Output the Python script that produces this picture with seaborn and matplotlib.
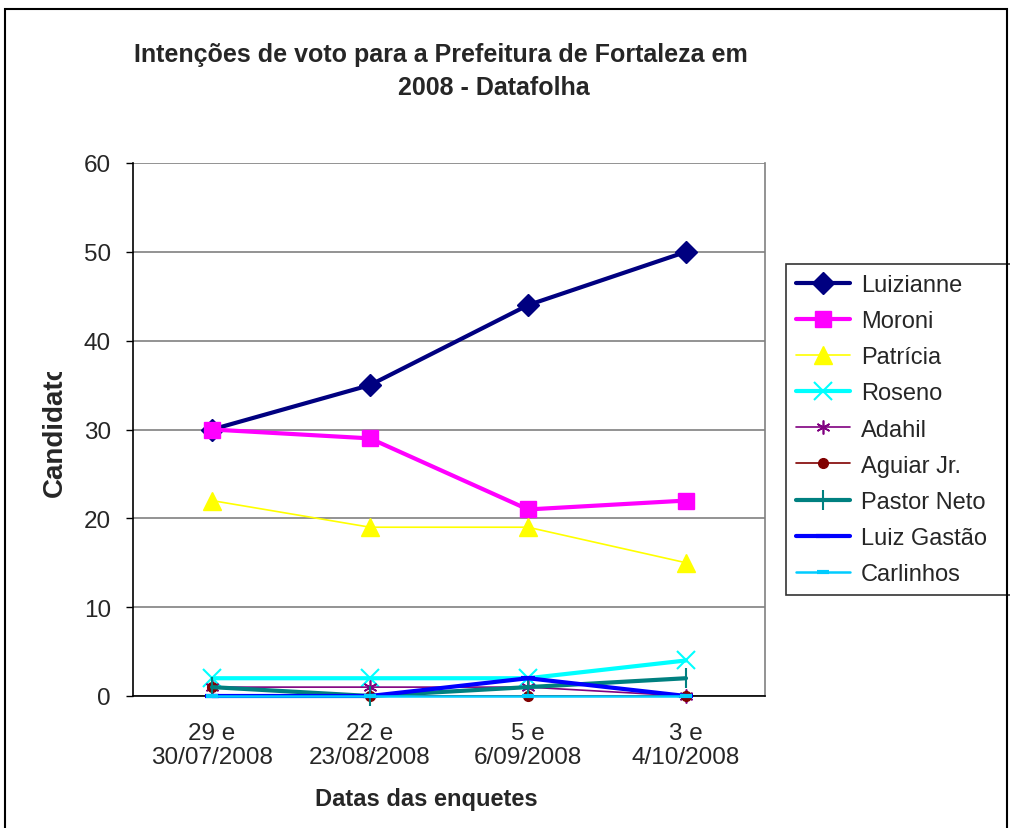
import matplotlib
matplotlib.use("Agg")
import matplotlib.pyplot as plt
import seaborn as sns
import numpy as np
from matplotlib.patches import Rectangle
from matplotlib.transforms import Bbox

sns.set_theme(style="white")
plt.rcParams['font.family'] = ['Liberation Sans', 'DejaVu Sans']

categories = ["29 e\n30/07/2008", "22 e\n23/08/2008", "5 e\n6/09/2008", "3 e\n4/10/2008"]
luizianne = [30, 35, 44, 50]
moroni = [30, 29, 21, 22]
patricia = [22, 19, 19, 15]
roseno = [2, 2, 2, 4]
adahil = [1, 1, 1, 0]
aguiar = [1, 0, 0, 0]
pastor_neto = [1, 0, 1, 2]
luiz_gastao = [0, 0, 2, 0]
carlinhos = [0, 0, 0, 0]

series = [
    ("Luizianne", luizianne, dict(color="#000080", lw=3, marker="D", ms=11, mec="#000080")),
    ("Moroni", moroni, dict(color="#FF00FF", lw=3, marker="s", ms=12, mec="#FF00FF")),
    ("Patrícia", patricia, dict(color="#FFFF00", lw=1.2, marker="^", ms=13, mec="#FFFF00")),
    ("Roseno", roseno, dict(color="#00FFFF", lw=3, marker="x", ms=13, mew=1.5, mec="#00FFFF")),
    ("Adahil", adahil, dict(color="#800080", lw=1.2, marker=(6, 2, 0), ms=10, mew=1.2, mec="#800080")),
    ("Aguiar Jr.", aguiar, dict(color="#800000", lw=1.2, marker="o", ms=7, mec="#800000")),
    ("Pastor Neto", pastor_neto, dict(color="#008080", lw=3, marker="|", ms=14, mew=1.5, mec="#008080")),
    ("Luiz Gastão", luiz_gastao, dict(color="#0000FF", lw=3, marker="_", ms=10, mew=3, mec="#0000FF")),
    ("Carlinhos", carlinhos, dict(color="#00CCFF", lw=1.8, marker="_", ms=9, mew=3, mec="#00CCFF")),
]

W, H = 1010, 829
fig = plt.figure(figsize=(W / 100, H / 100), dpi=100)
ax = fig.add_axes([133 / W, 1 - 697 / H, (765 - 133) / W, (697 - 164) / H])

x = np.arange(len(categories))
for name, vals, st in series:
    sns.lineplot(x=x, y=vals, ax=ax, label=name, color=st["color"], linewidth=st["lw"],
                 marker=st["marker"], markersize=st["ms"], markeredgecolor=st["mec"],
                 markeredgewidth=st.get("mew", 1.0), clip_on=False, zorder=3)

ax.set_xlim(-0.5, len(categories) - 0.5)
ax.set_ylim(0, 60)
ax.set_yticks(range(0, 61, 10))
ax.set_yticklabels([str(v) for v in range(0, 61, 10)], fontsize=17.5)
ax.set_xticks(x)
ax.set_xticklabels(categories, fontsize=17.5, linespacing=1.1)
ax.set_xticks(np.arange(-0.5, len(categories), 1.0), minor=True)
ax.tick_params(axis="x", which="major", length=0, pad=19)
ax.tick_params(axis="x", which="minor", length=4, width=1, color="black", direction="out")
ax.tick_params(axis="y", which="major", length=5, width=1, color="black", direction="out", left=True, pad=11)
ax.grid(axis="y", color="#808080", lw=1.2)
ax.set_axisbelow(True)
ax.spines["right"].set_color("#808080")
ax.spines["right"].set_linewidth(1.2)
ax.spines["top"].set_visible(False)
for s in ["left", "bottom"]:
    ax.spines[s].set_color("black")
    ax.spines[s].set_linewidth(1.2)
ax.set_xlabel("")
ax.set_ylabel("")

leg_top = 1 - 265 / H
leg_bot = 1 - 593 / H
leg = ax.legend(loc="upper left", bbox_to_anchor=(786 / W, leg_bot, 240 / W, leg_top - leg_bot),
                bbox_transform=fig.transFigure, mode="expand",
                frameon=True, fancybox=False, fontsize=17, handlelength=2.3, handletextpad=0.45,
                labelspacing=0.6, borderpad=0.42, borderaxespad=0)
leg.get_frame().set_edgecolor("black")
leg.get_frame().set_linewidth(1.2)

# figure border
fig.patches.append(Rectangle((5 / W, -0.05), (1007 - 5) / W, 1 - 10 / H + 0.05, transform=fig.transFigure,
                             fill=False, edgecolor="black", lw=1.5))

fig.text(441 / W, 1 - 55 / H, "Intenções de voto para a Prefeitura de Fortaleza em", ha="center", va="center",
         fontsize=18, fontweight="bold")
fig.text(494 / W, 1 - 88 / H, "2008 - Datafolha", ha="center", va="center", fontsize=18, fontweight="bold")
fig.text(426 / W, 1 - 800 / H, "Datas das enquetes", ha="center", va="center", fontsize=17, fontweight="bold")
yl = fig.text(55 / W, 1 - 497 / H, "Candidato", rotation=90, ha="center", va="bottom", fontsize=20,
              fontweight="bold")
yl.set_clip_on(True)
yl.set_clip_box(Bbox([[0, 0], [W, H - 373]]))

fig.savefig("out.png", dpi=100)
